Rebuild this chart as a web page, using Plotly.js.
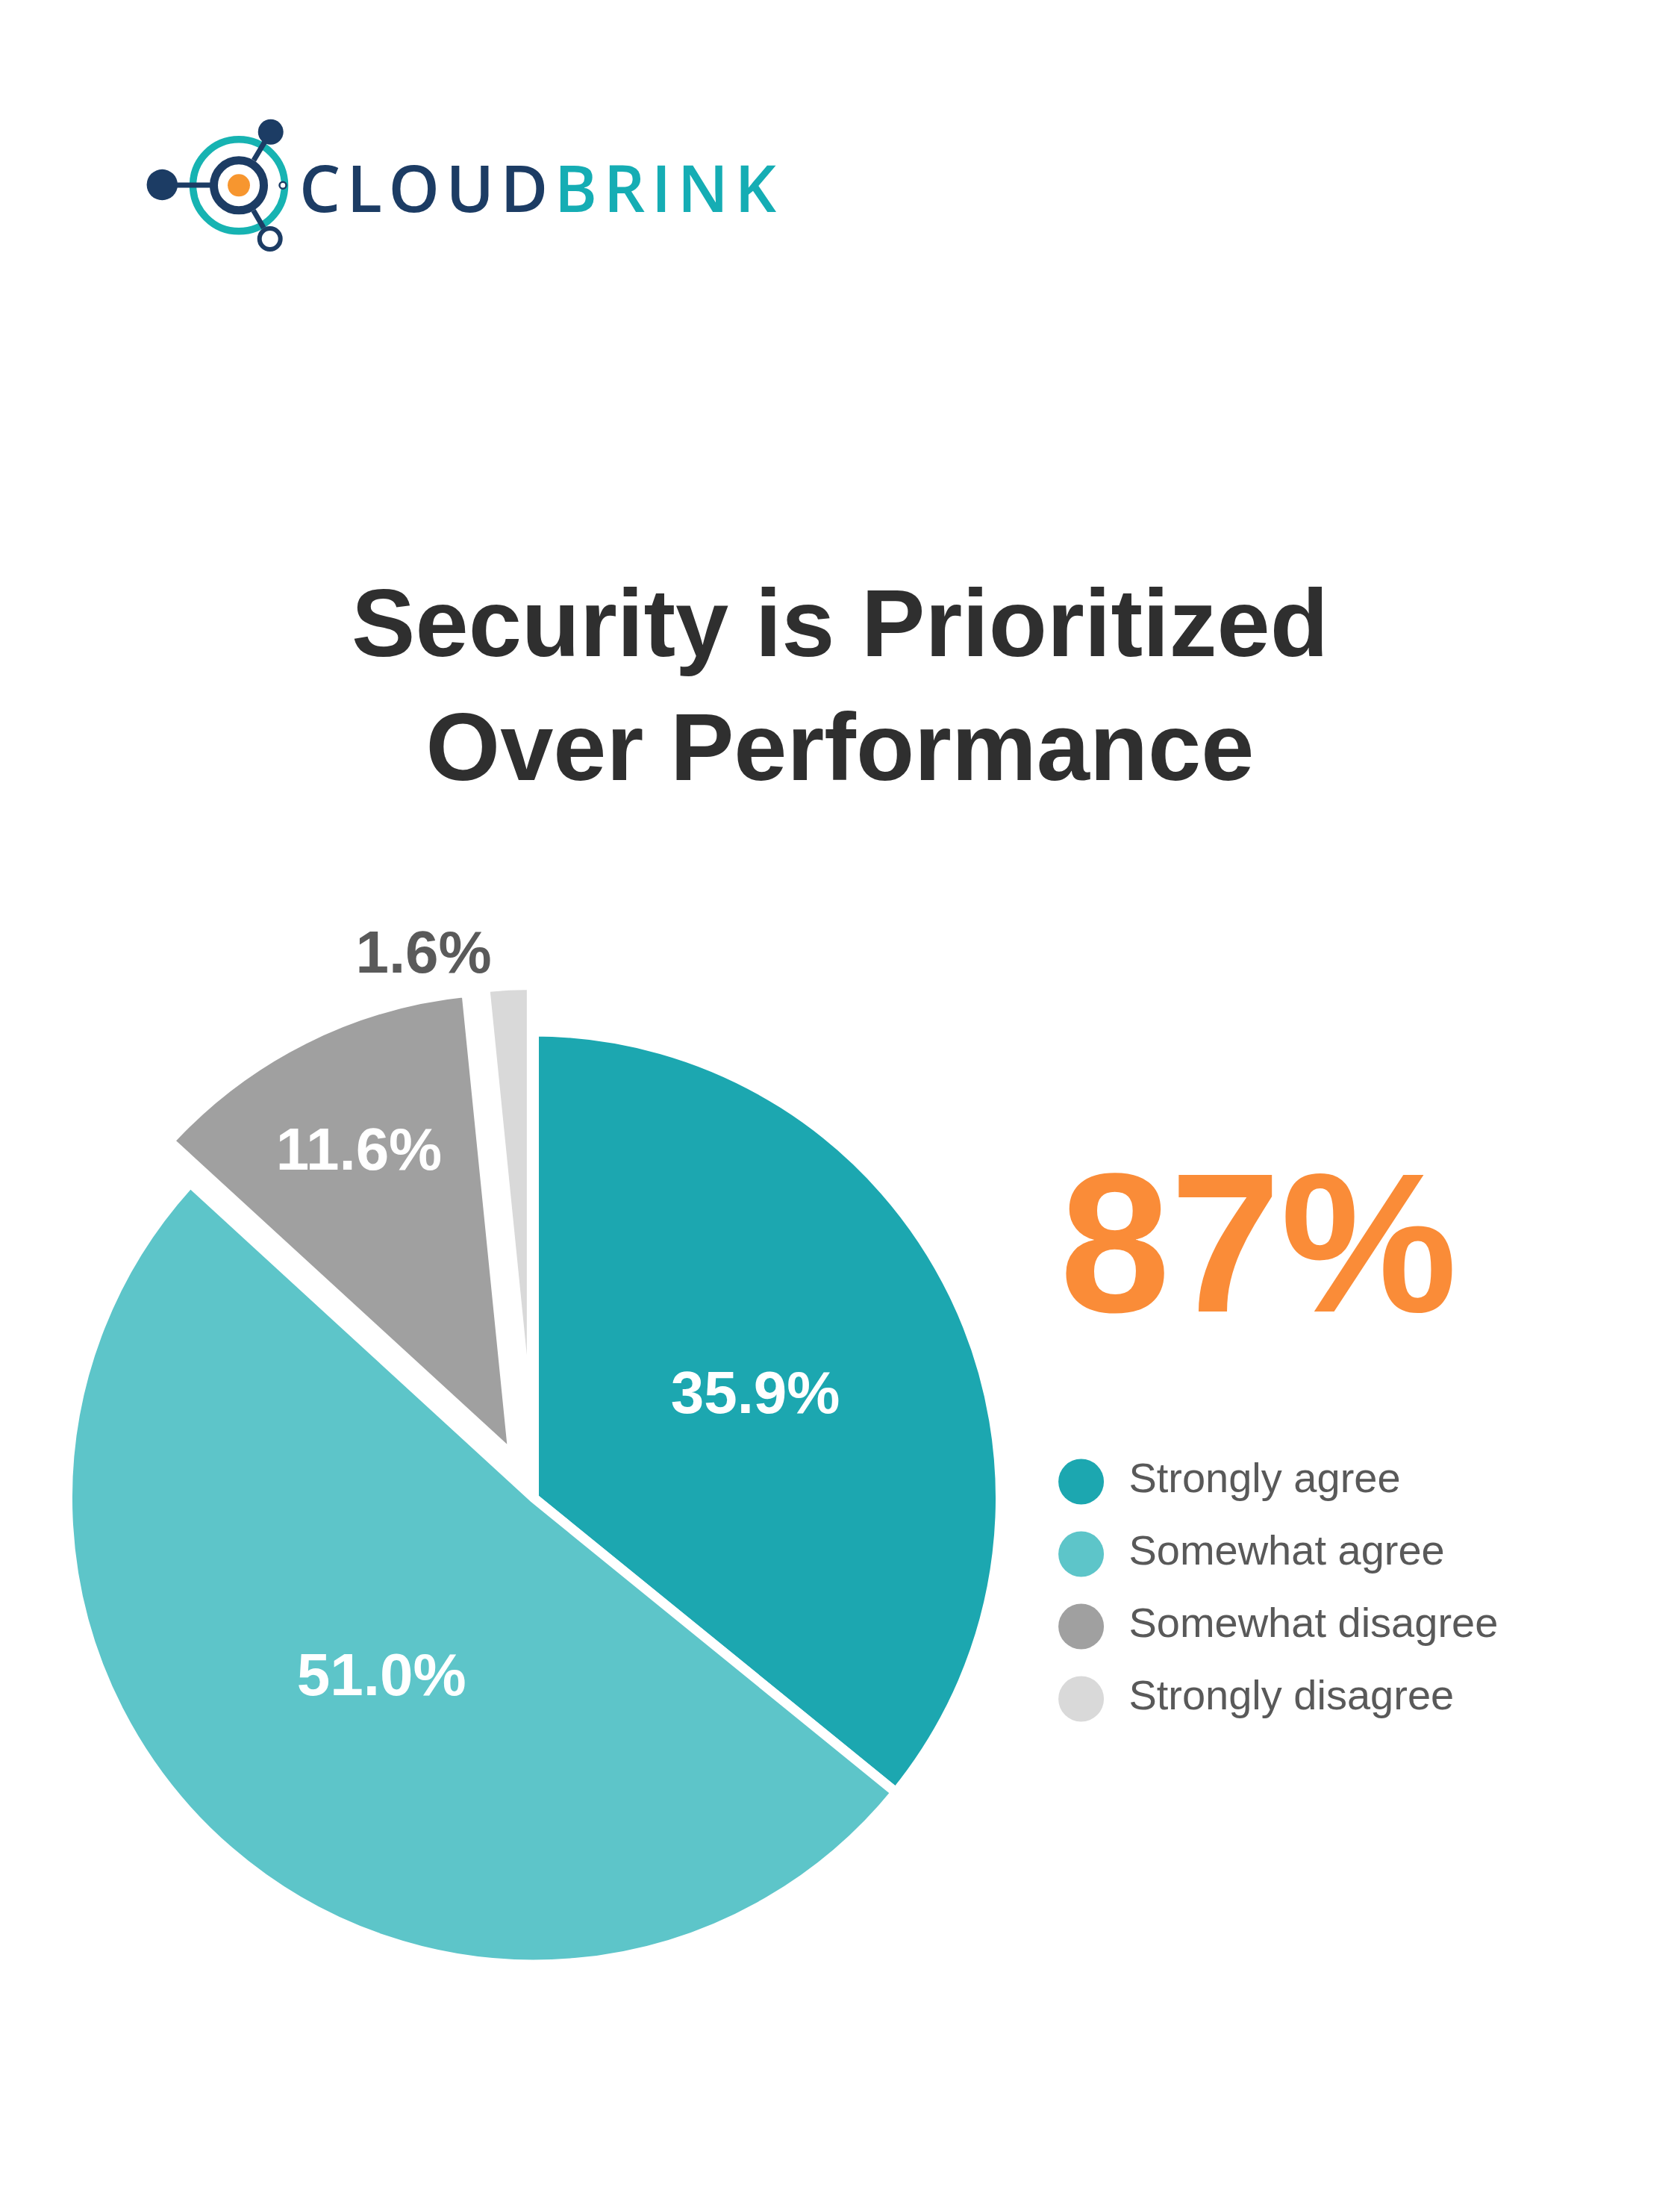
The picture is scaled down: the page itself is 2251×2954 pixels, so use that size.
<!DOCTYPE html>
<html>
<head>
<meta charset="utf-8">
<script src="https://cdn.plot.ly/plotly-3.0.1.min.js"></script>
<style>
  html, body { margin: 0; padding: 0; background: #ffffff; }
  #chart { width: 2251px; height: 2954px; }
</style>
</head>
<body>
<div id="chart"></div>
<script>
// ---------------- data ----------------
const categories = ['Strongly agree', 'Somewhat agree', 'Somewhat disagree', 'Strongly disagree'];
const shares = [35.9, 51.0, 11.6, 1.6];
const sliceColors = ['#1CA7B0', '#5DC5C9', '#A0A0A0', '#D9D9D9'];
const slicePull = [0, 0, 0.10, 0.10];
const labelPlacement = ['inside', 'inside', 'inside', 'outside'];
const titleLines = ['Security is Prioritized', 'Over Performance'];
const headline = '87%';
const brandParts = ['CLOUD', 'BRINK'];

// ---------------- page geometry helpers ----------------
const W = 2251, H = 2954;
const px = x => x / W;
const py = y => 1 - y / H;
const FONT = 'Liberation Sans, Arial, Helvetica, sans-serif';
const NAVY = '#1c3c64', TEAL = '#15adb4', ORANGE = '#f7962f';

function circle(cx, cy, r, fill, lineColor, lineWidth) {
  return {
    type: 'circle', xref: 'paper', yref: 'paper', layer: 'above',
    x0: px(cx - r), x1: px(cx + r), y0: py(cy + r), y1: py(cy - r),
    fillcolor: fill, line: { color: lineColor, width: lineWidth }
  };
}
function seg(x0, y0, x1, y1, color, width) {
  return {
    type: 'line', xref: 'paper', yref: 'paper', layer: 'above',
    x0: px(x0), y0: py(y0), x1: px(x1), y1: py(y1),
    line: { color: color, width: width }
  };
}

// logo icon (decoration)
const logoShapes = [
  circle(320, 248.3, 61.5, 'rgba(0,0,0,0)', '#17b3b2', 9.5),
  circle(320, 248.3, 33.5, 'rgba(0,0,0,0)', NAVY, 11),
  circle(320, 248.3, 15, ORANGE, ORANGE, 0),
  seg(232, 248, 284, 248, NAVY, 7),
  circle(217.3, 247.5, 20.7, NAVY, NAVY, 0),
  seg(340, 214.8, 362.7, 176.7, NAVY, 7),
  circle(362.7, 176.7, 17, NAVY, NAVY, 0),
  seg(339.6, 282, 353.2, 305.3, NAVY, 7),
  circle(361.7, 320, 14, '#ffffff', NAVY, 6),
  circle(379, 248.3, 4.5, '#ffffff', NAVY, 2.5)
];

// ---------------- traces ----------------
const pie = {
  type: 'pie',
  labels: categories,
  values: shares,
  sort: false,
  direction: 'clockwise',
  rotation: 0,
  pull: slicePull,
  marker: { colors: sliceColors, line: { color: '#ffffff', width: 13 } },
  texttemplate: '%{value:.1f}%',
  textposition: labelPlacement,
  insidetextorientation: 'horizontal',
  insidetextfont: { family: FONT, size: 80, color: '#ffffff', weight: 'bold' },
  outsidetextfont: { family: FONT, size: 80, color: '#5a5a5a', weight: 'bold' },
  hoverinfo: 'none',
  showlegend: false,
  domain: { x: [px(28), px(1403)], y: [259.5 / H, 1634.5 / H] }
};

const legendDots = {
  type: 'scatter', mode: 'markers',
  x: categories.map(() => 0), y: categories,
  marker: { size: 61, color: sliceColors, line: { width: 0 } },
  xaxis: 'x', yaxis: 'y', cliponaxis: false, hoverinfo: 'skip', showlegend: false
};
const legendText = {
  type: 'scatter', mode: 'text',
  x: categories.map(() => 0.0795), y: categories,
  text: categories, textposition: 'middle right',
  textfont: { family: FONT, size: 56, color: '#595959' },
  xaxis: 'x', yaxis: 'y', cliponaxis: false, hoverinfo: 'skip', showlegend: false
};

// ---------------- layout ----------------
const layout = {
  width: W, height: H,
  margin: { l: 0, r: 0, t: 0, b: 0, pad: 0 },
  paper_bgcolor: '#ffffff', plot_bgcolor: 'rgba(0,0,0,0)',
  showlegend: false,
  title: {
    text: titleLines.join('<br>'),
    font: { family: FONT, size: 128, color: '#2f2f2f', weight: 'bold' },
    x: 0.5, xanchor: 'center', xref: 'paper',
    y: 1 - 879 / H, yanchor: 'top', yref: 'container'
  },
  xaxis: { domain: [px(1448.6), 1], range: [0, 1], visible: false, fixedrange: true },
  yaxis: { domain: [0.21310, 0.34445], type: 'category', categoryarray: categories,
           range: [3.5, -0.5], visible: false, fixedrange: true },
  shapes: logoShapes,
  annotations: [
    {
      text: headline, xref: 'paper', yref: 'paper',
      x: px(1686), y: py(1664.5), xanchor: 'center', yanchor: 'middle', showarrow: false,
      font: { family: FONT, size: 266, color: '#FA8C38', weight: 'bold' }
    },
    {
      text: '<span style="color:' + NAVY + ';letter-spacing:8.5px">' + brandParts[0] + '</span>' +
            '<span style="color:' + TEAL + ';letter-spacing:8.5px">' + brandParts[1] + '</span>',
      xref: 'paper', yref: 'paper',
      x: px(399), y: py(250), xanchor: 'left', yanchor: 'middle', showarrow: false,
      font: { family: 'Open Sans, Liberation Sans, sans-serif', size: 87, color: NAVY, weight: 600 }
    }
  ]
};

Plotly.newPlot('chart', [pie, legendDots, legendText], layout, { staticPlot: true, displayModeBar: false });
</script>
</body>
</html>
